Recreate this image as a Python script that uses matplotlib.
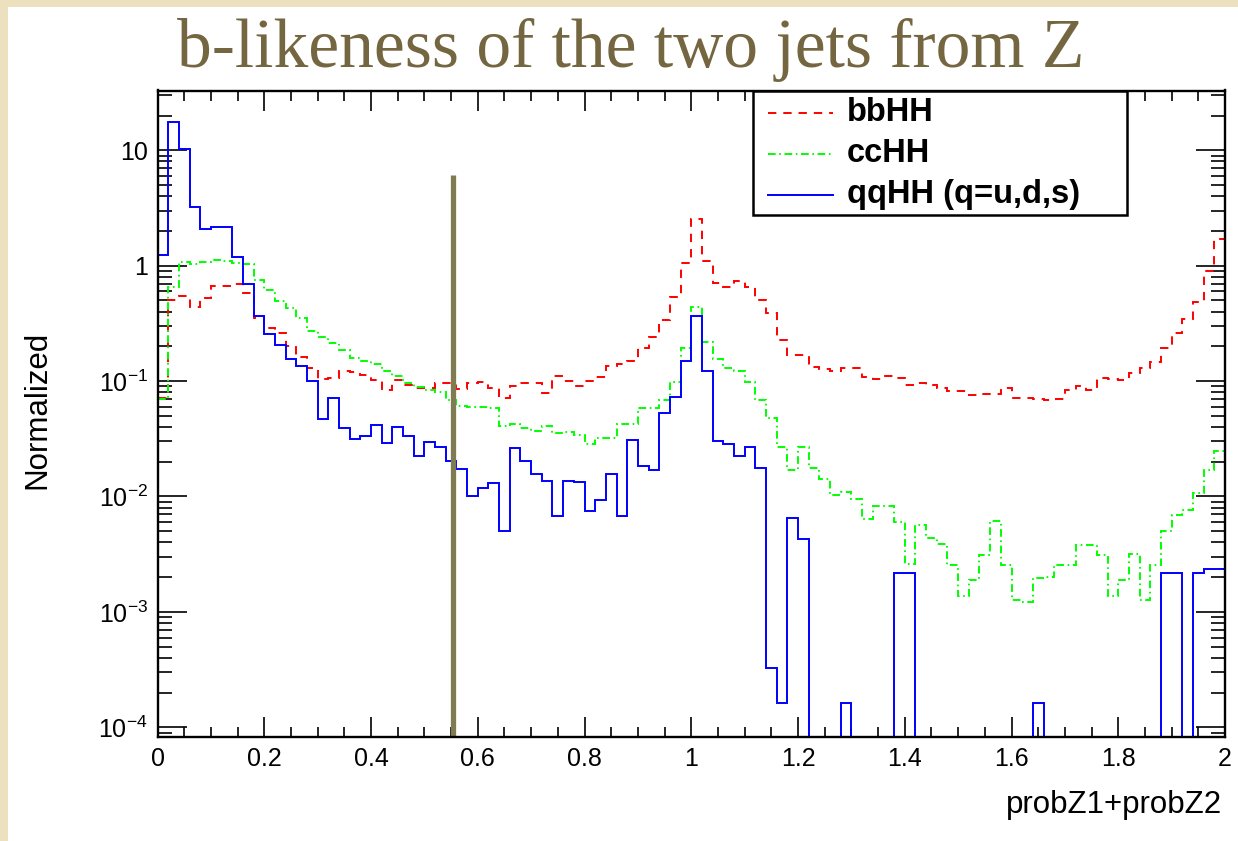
import numpy as np
import matplotlib
matplotlib.use("Agg")
import matplotlib.pyplot as plt
from matplotlib.ticker import FixedLocator, FixedFormatter, LogLocator, NullFormatter
from matplotlib.patches import Rectangle
from matplotlib.lines import Line2D

# ---------------- data ----------------
x_min, x_max, n_bins = 0.0, 2.0, 100
bin_edges = np.linspace(x_min, x_max, n_bins + 1)

bbHH = [0.071, 0.50, 0.55, 0.44, 0.53, 0.667, 0.667, 0.69, 0.577, 0.35,
        0.29, 0.26, 0.20, 0.163, 0.129, 0.104, 0.106, 0.123, 0.12, 0.113,
        0.102, 0.084, 0.102, 0.093, 0.087, 0.087, 0.097, 0.0957, 0.0848, 0.097,
        0.098, 0.0877, 0.071, 0.0907, 0.0957, 0.0957, 0.0784, 0.1107, 0.1, 0.0907,
        0.1, 0.109, 0.136, 0.142, 0.15, 0.195, 0.24, 0.336, 0.54, 1.05,
        2.54, 1.10, 0.71, 0.658, 0.736, 0.658, 0.507, 0.387, 0.225, 0.167,
        0.167, 0.133, 0.128, 0.123, 0.131, 0.131, 0.108, 0.104, 0.110, 0.106,
        0.0925, 0.097, 0.0925, 0.087, 0.082, 0.082, 0.076, 0.078, 0.078, 0.0866,
        0.0718, 0.0718, 0.070, 0.0686, 0.0693, 0.084, 0.0907, 0.084, 0.106, 0.104,
        0.102, 0.117, 0.129, 0.147, 0.192, 0.26, 0.345, 0.488, 0.905, 1.7]

ccHH = [0.070, 0.658, 1.08, 1.03, 1.08, 1.12, 1.10, 1.06, 1.03, 0.75,
        0.616, 0.498, 0.428, 0.35, 0.273, 0.243, 0.212, 0.187, 0.159, 0.15,
        0.14, 0.122, 0.11, 0.096, 0.088, 0.083, 0.081, 0.0686, 0.0603, 0.06,
        0.0595, 0.059, 0.0408, 0.0424, 0.0396, 0.037, 0.0408, 0.0354, 0.0365, 0.0342,
        0.0285, 0.0319, 0.0319, 0.0421, 0.0421, 0.0589, 0.0589, 0.0686, 0.099, 0.192,
        0.44, 0.22, 0.156, 0.13, 0.122, 0.098, 0.0686, 0.048, 0.027, 0.0168,
        0.027, 0.0175, 0.0142, 0.0103, 0.011, 0.00946, 0.00634, 0.00828, 0.00828, 0.00601,
        0.00258, 0.00565, 0.00434, 0.00385, 0.00254, 0.00136, 0.00189, 0.00313, 0.00617, 0.00254,
        0.00127, 0.00123, 0.00196, 0.00199, 0.00254, 0.00254, 0.00377, 0.0038, 0.00313, 0.00136,
        0.00189, 0.00319, 0.00127, 0.00254, 0.00502, 0.00687, 0.00763, 0.0107, 0.017, 0.025]

qqHH = [1.25, 17.5, 10.3, 3.25, 2.08, 2.15, 2.16, 1.18, 0.70, 0.367,
        0.256, 0.204, 0.154, 0.135, 0.100, 0.0467, 0.0718, 0.039, 0.0315, 0.0337,
        0.0417, 0.0289, 0.040, 0.0333, 0.0226, 0.0295, 0.027, 0.0203, 0.0174, 0.0101,
        0.0118, 0.0132, 0.00499, 0.0265, 0.0203, 0.0158, 0.0137, 0.00682, 0.0137, 0.0134,
        0.00744, 0.00933, 0.0158, 0.00682, 0.0307, 0.0183, 0.0168, 0.0526, 0.0728, 0.149,
        0.369, 0.1215, 0.0303, 0.0285, 0.0226, 0.027, 0.0178, 3.25e-4, 1.61e-4, 0.00655,
        0.00431, 0, 0, 0, 1.61e-4, 0, 0, 0, 0, 0.00217,
        0.00217, 0, 0, 0, 0, 0, 0, 0, 0, 0,
        0, 0, 1.61e-4, 0, 0, 0, 0, 0, 0, 0,
        0, 0, 0, 0, 0.00217, 0.00217, 0, 0.00217, 0.00236, 0.00236]

series_labels = ["bbHH", "ccHH", "qqHH (q=u,d,s)"]
series_colors = ["#ff0000", "#00ff00", "#0000ff"]

x_ticks = [0, 0.2, 0.4, 0.6, 0.8, 1.0, 1.2, 1.4, 1.6, 1.8, 2.0]
x_tick_labels = ["0", "0.2", "0.4", "0.6", "0.8", "1", "1.2", "1.4", "1.6", "1.8", "2"]
y_ticks = [1e-4, 1e-3, 1e-2, 1e-1, 1, 10]
y_tick_labels = [r"$\mathregular{10^{-4}}$", r"$\mathregular{10^{-3}}$", r"$\mathregular{10^{-2}}$",
                 r"$\mathregular{10^{-1}}$", "1", "10"]

cut_value = 0.553
cut_top = 6.1

title = "b-likeness of the two jets from Z"
x_label = "probZ1+probZ2"
y_label = "Normalized"

# ---------------- style ----------------
plt.rcParams["font.family"] = ["Liberation Sans", "DejaVu Sans"]
plt.rcParams["mathtext.fontset"] = "custom"
plt.rcParams["mathtext.rm"] = "Liberation Sans"
plt.rcParams["mathtext.it"] = "Liberation Sans:italic"
plt.rcParams["mathtext.bf"] = "Liberation Sans:bold"
plt.rcParams["lines.scale_dashes"] = False

W, H = 1238, 841
fig = plt.figure(figsize=(W / 100, H / 100), dpi=100)
fig.patch.set_facecolor("white")
beige = "#ece0bf"
fig.add_artist(Rectangle((0, 0), 8 / W, 1, transform=fig.transFigure,
                         facecolor=beige, edgecolor="none", zorder=-10))
fig.add_artist(Rectangle((0, 1 - 7 / H), 1, 7 / H, transform=fig.transFigure,
                         facecolor=beige, edgecolor="none", zorder=-10))

def fx(px):
    return px / W

def fy(py):
    return 1 - py / H

ax_l, ax_r, ax_t, ax_b = 157.5, 1225.0, 90.5, 737.0
ax = fig.add_axes([fx(ax_l), fy(ax_b), (ax_r - ax_l) / W, (ax_b - ax_t) / H])
ax.set_facecolor("white")
ax.set_yscale("log")
ax.set_xlim(x_min, x_max)
ax.set_ylim(10 ** -4.084, 10 ** 1.518)

def drawable(vals):
    v = np.asarray(vals, dtype=float)
    return np.where(v > 0, v, 1e-9)

styles = [(0, (6.0, 5.0)), (0, (5.5, 2.6, 1.2, 2.6)), "-"]
for vals, col, ls in zip([bbHH, ccHH, qqHH], series_colors, styles):
    ax.stairs(drawable(vals), bin_edges, color=col, linewidth=1.4,
              linestyle=ls, baseline=None, zorder=3)

ax.vlines(cut_value, ax.get_ylim()[0], cut_top, color="#807c52",
          linewidth=3.8, zorder=5)

ax.xaxis.set_major_locator(FixedLocator(x_ticks))
ax.xaxis.set_major_formatter(FixedFormatter(x_tick_labels))
ax.xaxis.set_minor_locator(FixedLocator(np.arange(0, 2.0001, 0.05)))
ax.yaxis.set_major_locator(FixedLocator(y_ticks))
ax.yaxis.set_major_formatter(FixedFormatter(y_tick_labels))
ax.yaxis.set_minor_locator(LogLocator(base=10, subs=np.arange(2, 10), numticks=20))
ax.yaxis.set_minor_formatter(NullFormatter())

ax.tick_params(which="both", direction="in", top=True, right=True, color="black")
ax.tick_params(axis="x", which="major", length=14.4, width=1.2, labelsize=18, pad=7)
ax.tick_params(axis="x", which="minor", length=7.0, width=1.2)
ax.tick_params(axis="y", which="major", length=21, width=1.2, labelsize=18, pad=7)
ax.tick_params(axis="y", which="minor", length=10, width=1.2)
for s in ax.spines.values():
    s.set_linewidth(1.7)
    s.set_zorder(6)

fig.text(fx(1222), fy(805), x_label, ha="right", va="center", fontsize=22.5)
fig.text(fx(37), fy(410), y_label, ha="center", va="center", rotation=90, fontsize=22.5)
fig.text(fx(631), fy(67), title, ha="center", va="baseline", fontsize=50,
         family=["Liberation Serif", "DejaVu Serif"], color="#746640")

# ---------------- legend ----------------
lx0, lx1, ly0, ly1 = 753, 1127, 90.5, 215
fig.add_artist(Rectangle((fx(lx0), fy(ly1)), (lx1 - lx0) / W, (ly1 - ly0) / H,
                         transform=fig.transFigure, facecolor="white",
                         edgecolor="black", linewidth=1.8, zorder=10))
rows = [113, 154, 195]
for lab, col, ls, ry in zip(series_labels, series_colors, styles, rows):
    fig.add_artist(Line2D([fx(768), fx(833)], [fy(ry), fy(ry)], transform=fig.transFigure,
                          color=col, linestyle=ls, linewidth=1.4, zorder=11))
    fig.text(fx(847), fy(ry), lab, ha="left", va="center", fontsize=23.5,
             fontweight="bold", zorder=12)

fig.savefig("out.png", dpi=100)
